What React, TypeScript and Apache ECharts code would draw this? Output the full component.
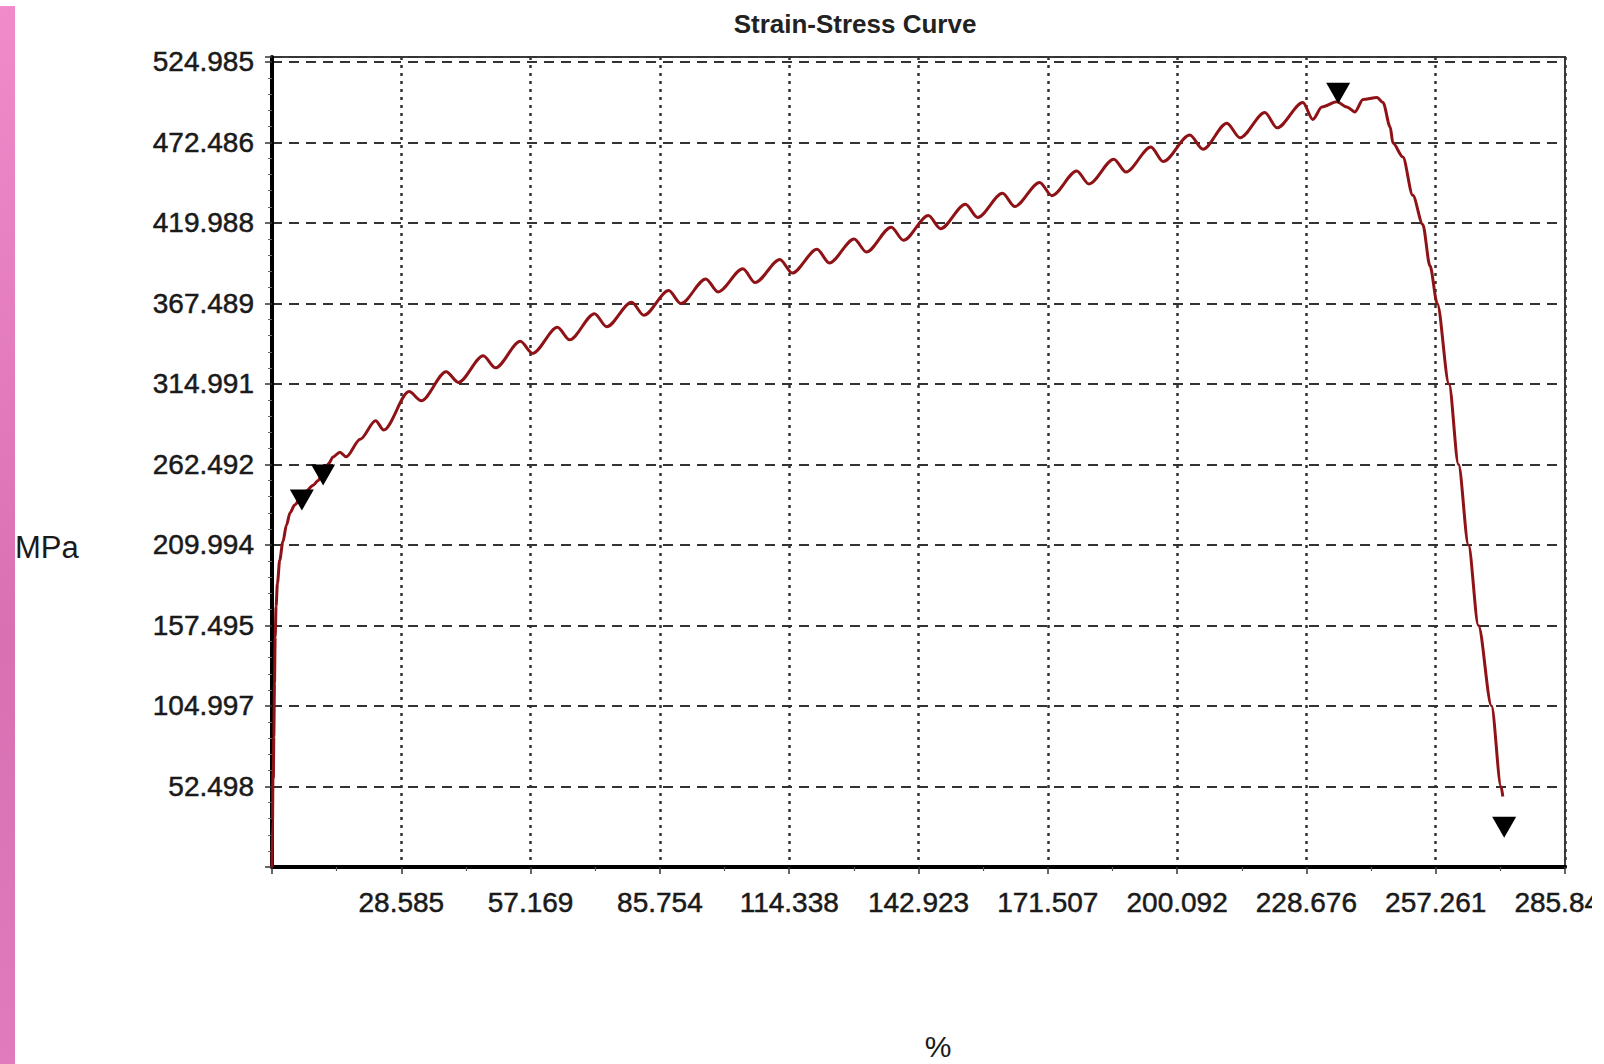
import React, { useEffect, useRef } from "react";
import * as echarts from "echarts";

const xStep = 28.5846;
const yStep = 52.4985;
const xMax = 285.846;
const yMax = 528.2;

const xTickLabels = ["28.585", "57.169", "85.754", "114.338", "142.923", "171.507", "200.092", "228.676", "257.261", "285.846"];
const yTickLabels = ["52.498", "104.997", "157.495", "209.994", "262.492", "314.991", "367.489", "419.988", "472.486", "524.985"];

const curveStrain = [
  0, 0.12, 0.22, 0.3, 0.4, 0.55, 0.7, 0.9, 1.2, 1.7, 2.4, 3.2, 4.0, 5.0, 6.2, 7.5, 9.1, 10.2, 11.3, 12.5,
  13.5, 15.0, 16.4, 19.5, 22.9, 24.7,
  30.3, 33.0, 38.5, 41.2, 46.7, 49.4, 54.9, 57.6, 63.1, 65.8, 71.3, 74.0, 79.5, 82.2, 87.7, 90.4,
  95.9, 98.6, 104.1, 106.8, 112.3, 115.0, 120.5, 123.2, 128.7, 131.4, 136.9, 139.6, 145.1, 147.8,
  153.3, 156.0, 161.5, 164.2, 169.7, 172.4, 177.9, 180.6, 186.1, 188.8, 194.3, 197.0, 202.9, 205.8,
  211.1, 214.0, 219.5, 222.2, 227.9, 230.1, 232.1, 235.4, 237.6, 239.4, 241.2, 244.3, 245.6, 247.2,
  247.8, 250.0, 252.2, 254.4, 256.0, 257.6, 260.2, 262.3, 264.5, 266.7, 269.6, 271.7, 272.1,
];
const curveStress = [
  0, 30, 62, 58, 85, 120, 150, 170, 185, 200, 212, 223, 231, 236, 240, 245, 249, 252, 257, 263,
  267.4, 270.5, 267.5, 279, 291, 285,
  310, 304, 323, 316, 333.4, 325.5, 342.8, 334.9, 351.9, 343.8, 360.8, 352.3, 368.3, 359.8, 375.9, 367.4,
  383.5, 375, 390.1, 381.1, 396.2, 387.3, 402.8, 393.9, 409.5, 401, 417.2, 408.7, 424.8, 416.2,
  432.2, 423.6, 439.4, 430.7, 446.4, 437.8, 453.9, 445.4, 461.6, 453.2, 469.5, 460, 477.3, 468,
  485, 475.5, 492, 482, 498.5, 487.5, 495.6, 499, 495.6, 492.4, 500.5, 501.8, 498.6, 482.6,
  472.1, 463, 438, 419, 392, 367.5, 315, 262.5, 210, 157.5, 105, 52.5, 46,
];

const markerStrain = [6.6, 11.3, 235.7, 272.4];
const markerStress = [239.3, 255.6, 504.5, 26];

const FONT = '"Liberation Sans", Arial, sans-serif';
const INK = "#1a1a1a";

function labelFrom(list: string[], step: number) {
  return (v: number) => {
    const i = Math.round(v / step);
    if (i < 1 || i > list.length || Math.abs(v - i * step) > 1e-6) return "";
    return list[i - 1];
  };
}

export default function App() {
  const ref = useRef<HTMLDivElement>(null);
  useEffect(() => {
    if (!ref.current) return;
    const chart = echarts.init(ref.current, undefined, { renderer: "svg" });
    const curve = curveStrain.map((x, i) => [x, curveStress[i]]);
    const markers = markerStrain.map((x, i) => [x, markerStress[i]]);
    const labelStyle = {
      fontFamily: FONT,
      fontSize: 28,
      color: INK,
      textBorderColor: INK,
      textBorderWidth: 0.5,
    };
    chart.setOption({
      animation: false,
      backgroundColor: "#ffffff",
      grid: {
        left: 272,
        top: 57,
        width: 1293,
        height: 810,
        show: true,
        borderColor: "#3a3a3a",
        borderWidth: 2,
        containLabel: false,
        outerBoundsMode: "none",
      },
      xAxis: {
        type: "value",
        min: 0,
        max: xMax,
        interval: xStep,
        axisLine: { show: true, onZero: false, lineStyle: { color: "#000", width: 4 } },
        axisTick: { show: true, inside: false, length: 7, lineStyle: { color: "#333", width: 1.5 } },
        minorTick: { show: true, splitNumber: 2, length: 4, lineStyle: { color: "#555", width: 1.2 } },
        axisLabel: {
          ...labelStyle,
          formatter: labelFrom(xTickLabels, xStep),
          margin: 21,
        },
        splitLine: { show: true, lineStyle: { color: "#333", width: 2.5, type: [3, 5] } },
      },
      yAxis: {
        type: "value",
        min: 0,
        max: yMax,
        interval: yStep,
        axisLine: { show: true, onZero: false, lineStyle: { color: "#000", width: 4 } },
        axisTick: { show: true, inside: false, length: 7, lineStyle: { color: "#333", width: 1.5 } },
        minorTick: { show: true, splitNumber: 5, length: 4, lineStyle: { color: "#666", width: 1 } },
        axisLabel: {
          ...labelStyle,
          formatter: labelFrom(yTickLabels, yStep),
          margin: 18,
        },
        splitLine: { show: true, lineStyle: { color: "#333", width: 2, type: [10, 7] } },
      },
      series: [
        {
          type: "line",
          data: curve,
          showSymbol: false,
          smooth: 0.3,
          smoothMonotone: "x",
          lineStyle: { color: "#8e1216", width: 3 },
          z: 3,
        },
        {
          type: "scatter",
          data: markers,
          symbol: "triangle",
          symbolRotate: 180,
          symbolSize: [24, 21],
          itemStyle: { color: "#000", opacity: 1 },
          z: 4,
        },
      ],
      graphic: [
        {
          type: "rect",
          shape: { x: 0, y: 6, width: 15, height: 1058 },
          style: {
            fill: new echarts.graphic.LinearGradient(0, 0, 0, 1, [
              { offset: 0, color: "#f28bca" },
              { offset: 0.6, color: "#d870b2" },
              { offset: 1, color: "#e17bbd" },
            ]),
          },
          silent: true,
        },
        {
          type: "text",
          x: 855,
          y: 24,
          style: {
            text: "Strain-Stress Curve",
            font: `bold 26px ${FONT}`,
            fill: "#222",
            textAlign: "center",
            textVerticalAlign: "middle",
          },
        },
        {
          type: "text",
          x: 15,
          y: 547,
          style: {
            text: "MPa",
            font: `31px ${FONT}`,
            fill: INK,
            textAlign: "left",
            textVerticalAlign: "middle",
          },
        },
        {
          type: "text",
          x: 938,
          y: 1046,
          style: {
            text: "%",
            font: `30px ${FONT}`,
            fill: INK,
            textAlign: "center",
            textVerticalAlign: "middle",
          },
        },
      ],
    });
    return () => chart.dispose();
  }, []);
  return (
    <div
      ref={ref}
      style={{ position: "absolute", left: 0, top: 0, width: 1592, height: 1064, background: "#fff" }}
    />
  );
}
